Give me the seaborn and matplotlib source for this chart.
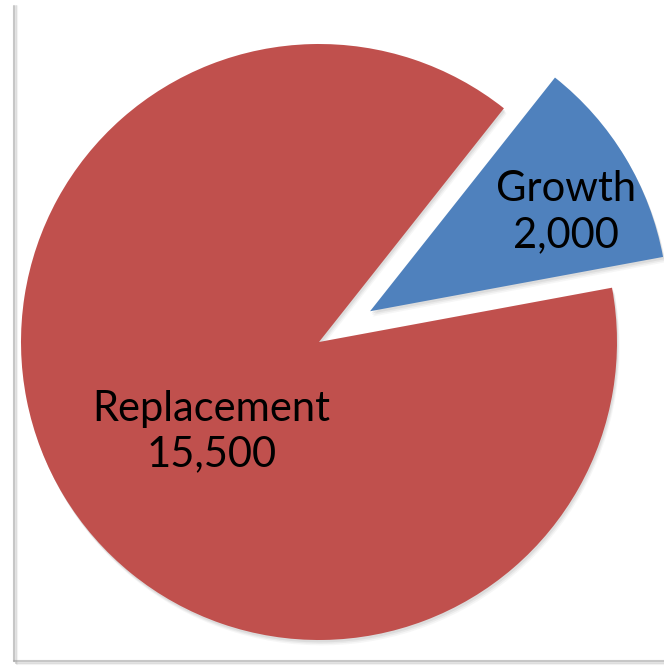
import matplotlib
matplotlib.use("Agg")
import matplotlib.pyplot as plt
import seaborn as sns
import numpy as np
from matplotlib.patches import Wedge
from matplotlib.lines import Line2D

# Job openings split by source
categories = ["Growth", "Replacement"]
values = [2000, 15500]
colors = ["#4F81BD", "#C0504D"]
explode = [0.2, 0.0]

sns.set_theme(style="white")
plt.rcParams["font.family"] = ["Lato", "DejaVu Sans"]

W, H, DPI = 664, 666, 100
fig = plt.figure(figsize=(W / DPI, H / DPI), dpi=DPI)
fig.patch.set_facecolor("white")
ax = fig.add_axes([0, 0, 1, 1])

wedges, _ = ax.pie(values, colors=colors, explode=explode, startangle=10.5,
                   counterclock=True, radius=1.0, center=(0, 0),
                   wedgeprops=dict(linewidth=0), normalize=True)

# pie centre / radius in pixels
cx, cy, R = 319, 342, 298
ax.set_xlim(-cx / R, (W - cx) / R)
ax.set_ylim(-(H - cy) / R, cy / R)
ax.set_aspect("equal")
ax.axis("off")

# soft drop shadow under each slice
for w in wedges:
    for off, a in [(0.018, 0.05), (0.013, 0.07), (0.008, 0.09)]:
        sh = Wedge((w.center[0] + off * 0.5, w.center[1] - off), w.r,
                   w.theta1, w.theta2, facecolor="#555555", edgecolor="none",
                   alpha=a, zorder=w.get_zorder() - 0.5)
        ax.add_patch(sh)

# slice labels
label_pos = {"Growth": (0.829, 0.435), "Replacement": (-0.362, -0.300)}
for cat, v in zip(categories, values):
    x, y = label_pos[cat]
    ax.text(x, y, f"{cat}\n{v:,}", ha="center", va="center", fontsize=30,
            color="black", linespacing=1.25, zorder=5)

# chart-area frame (left and bottom edges with a faint shadow)
for off, a in [(0, 0.55), (1.5, 0.25), (3, 0.1)]:
    fig.add_artist(Line2D([(14 + off) / W, (14 + off) / W],
                          [1 - 6 / H, 1 - (661 + off) / H],
                          transform=fig.transFigure, color="#9a9a9a",
                          lw=1.5, alpha=a))
    fig.add_artist(Line2D([(14 + off) / W, 1],
                          [1 - (661 + off) / H, 1 - (661 + off) / H],
                          transform=fig.transFigure, color="#9a9a9a",
                          lw=1.5, alpha=a))

fig.savefig("out.png", dpi=DPI, facecolor="white")
